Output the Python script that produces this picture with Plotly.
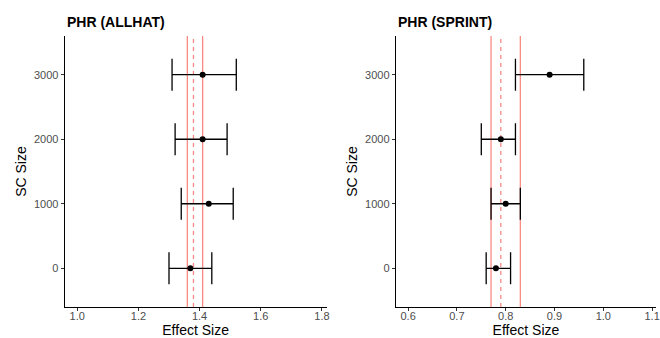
import plotly.graph_objects as go

sc_size = [0, 1000, 2000, 3000]

allhat_est = [1.37, 1.43, 1.41, 1.41]
allhat_lo = [1.30, 1.34, 1.32, 1.31]
allhat_hi = [1.44, 1.51, 1.49, 1.52]
allhat_ref = [1.36, 1.41]      # solid lines
allhat_ref_mid = 1.38          # dashed line

sprint_est = [0.78, 0.80, 0.79, 0.89]
sprint_lo = [0.76, 0.77, 0.75, 0.82]
sprint_hi = [0.81, 0.83, 0.82, 0.96]
sprint_ref = [0.77, 0.83]
sprint_ref_mid = 0.79

x1_ticks = [1.0, 1.2, 1.4, 1.6, 1.8]
x2_ticks = [0.6, 0.7, 0.8, 0.9, 1.0, 1.1]
y_ticks = [0, 1000, 2000, 3000]

W, H = 660, 338
FONT = "Liberation Sans, Arial, sans-serif"
RED = "rgba(248,118,109,0.85)"

fig = go.Figure()

def add_panel(est, lo, hi, ref, mid, xa, ya):
    for v in ref:
        fig.add_trace(go.Scatter(x=[v, v], y=[-600, 3600], mode="lines",
                                 line=dict(color=RED, width=1.3),
                                 xaxis=xa, yaxis=ya, showlegend=False, hoverinfo="skip"))
    fig.add_trace(go.Scatter(x=[mid, mid], y=[-600, 3600], mode="lines",
                             line=dict(color=RED, width=1.3, dash="4px,4px"),
                             xaxis=xa, yaxis=ya, showlegend=False, hoverinfo="skip"))
    fig.add_trace(go.Scatter(
        x=est, y=sc_size, mode="markers",
        marker=dict(color="black", size=6),
        error_x=dict(type="data", symmetric=False,
                     array=[h - e for h, e in zip(hi, est)],
                     arrayminus=[e - l for e, l in zip(est, lo)],
                     color="black", thickness=1.3, width=16),
        xaxis=xa, yaxis=ya, showlegend=False))

add_panel(allhat_est, allhat_lo, allhat_hi, allhat_ref, allhat_ref_mid, "x", "y")
add_panel(sprint_est, sprint_lo, sprint_hi, sprint_ref, sprint_ref_mid, "x2", "y2")

ydom = [(H - 307) / H, (H - 36) / H]
axis_common = dict(showgrid=False, zeroline=False, showline=True, linecolor="black",
                   linewidth=1.2, ticks="outside", ticklen=3, tickcolor="#333333",
                   tickfont=dict(family=FONT, size=11, color="#4D4D4D"))
xtitle = dict(text="Effect Size", font=dict(size=14, color="black"), standoff=0)
ytitle = dict(text="SC Size", font=dict(size=14, color="black"), standoff=4)

fig.update_layout(
    width=W, height=H,
    margin=dict(l=0, r=0, t=0, b=0),
    paper_bgcolor="white", plot_bgcolor="white",
    font=dict(family=FONT),
    xaxis=dict(domain=[65 / W, 328 / W], range=[0.959, 1.815], tickvals=x1_ticks,
               ticktext=[f"{v:.1f}" for v in x1_ticks], anchor="y",
               ticklabelstandoff=-4, title=xtitle, **axis_common),
    yaxis=dict(domain=ydom, range=[-600, 3600], tickvals=y_ticks, anchor="x",
               title=ytitle, **axis_common),
    xaxis2=dict(domain=[397.7 / W, 659 / W], range=[0.575, 1.108], tickvals=x2_ticks,
                ticktext=[f"{v:.1f}" for v in x2_ticks], anchor="y2",
                ticklabelstandoff=-4, title=xtitle, **axis_common),
    yaxis2=dict(domain=ydom, range=[-600, 3600], tickvals=y_ticks, anchor="x2",
                title=ytitle, **axis_common),
    annotations=[
        dict(text="<b>PHR (ALLHAT)</b>", x=65 / W, y=(H - 22) / H, xref="paper", yref="paper",
             xanchor="left", yanchor="middle", showarrow=False,
             font=dict(family=FONT, size=14, color="black")),
        dict(text="<b>PHR (SPRINT)</b>", x=398 / W, y=(H - 22) / H, xref="paper", yref="paper",
             xanchor="left", yanchor="middle", showarrow=False,
             font=dict(family=FONT, size=14, color="black")),
    ],
)

fig.write_html("out.html", config={"displayModeBar": False},
               post_script="document.body.style.margin='0';document.body.style.overflow='hidden';")
